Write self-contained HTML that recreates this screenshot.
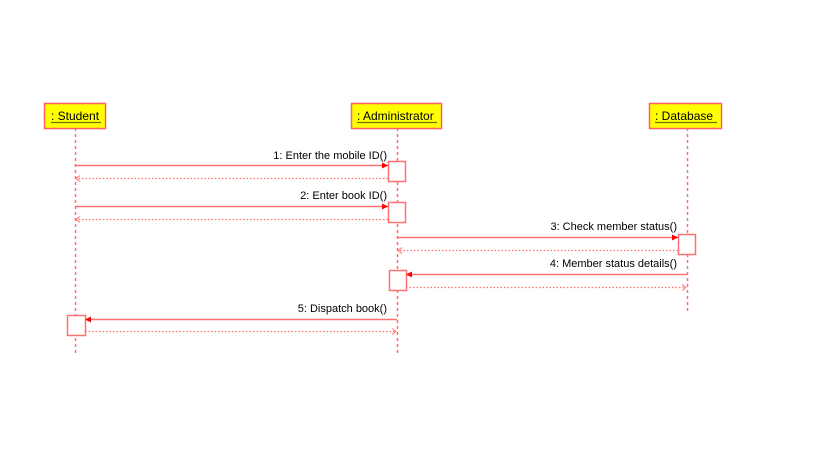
<!DOCTYPE html>
<html><head><meta charset="utf-8"><style>
html,body{margin:0;padding:0;background:#fff;}
svg{display:block}
text{font-family:"Liberation Sans",sans-serif;font-size:11px;fill:#000}
</style></head><body>
<svg width="819" height="460" viewBox="0 0 819 460" xmlns="http://www.w3.org/2000/svg">
<g stroke="#ff7070" stroke-width="1.5" fill="none">
<line x1="75.5" y1="128" x2="75.5" y2="356" stroke-dasharray="3,3"/>
<line x1="397.5" y1="128" x2="397.5" y2="356" stroke-dasharray="3,3"/>
<line x1="687.5" y1="128" x2="687.5" y2="311" stroke-dasharray="3,3"/>
</g>
<g stroke="#ff6060" stroke-width="1.5" fill="#ffff00">
<rect x="44.5" y="103.5" width="61" height="25"/>
<rect x="351.5" y="103.5" width="90" height="25"/>
<rect x="649.5" y="103.5" width="72" height="25"/>
</g>
<text x="51" y="120" style="font-size:12px">: Student</text>
<text x="357" y="120" style="font-size:12px">: Administrator</text>
<text x="655" y="120" style="font-size:12px">: Database</text>
<g stroke="#707000" stroke-width="1.3">
<line x1="51" y1="122.5" x2="101" y2="122.5"/>
<line x1="357" y1="122.5" x2="437" y2="122.5"/>
<line x1="655" y1="122.5" x2="717" y2="122.5"/>
</g>
<g stroke="#ff7070" stroke-width="1.5" fill="#fff">
<rect x="388.5" y="161.5" width="17" height="20"/>
<rect x="388.5" y="202.5" width="17" height="20"/>
<rect x="678.5" y="234.5" width="17" height="20"/>
<rect x="389.5" y="270.5" width="17" height="20"/>
<rect x="67.5" y="315.5" width="18" height="20"/>
</g>
<g stroke="#ff7070" stroke-width="1.5">
<line x1="75" y1="165.5" x2="388" y2="165.5"/>
<line x1="75" y1="206.5" x2="388" y2="206.5"/>
<line x1="397" y1="237.5" x2="678" y2="237.5"/>
<line x1="687" y1="274.5" x2="406" y2="274.5"/>
<line x1="397" y1="319.5" x2="85" y2="319.5"/>
</g>
<g fill="#ff0000">
<polygon points="388,165.5 382,162.5 382,168.5"/>
<polygon points="388,206.5 382,203.5 382,209.5"/>
<polygon points="678,237.5 672,234.5 672,240.5"/>
<polygon points="406,274.5 412,271.5 412,277.5"/>
<polygon points="85,319.5 91,316.5 91,322.5"/>
</g>
<g stroke="#ff7070" stroke-width="1.3" stroke-dasharray="1.5,2" fill="none">
<line x1="388" y1="178.5" x2="76" y2="178.5"/>
<line x1="388" y1="219.5" x2="76" y2="219.5"/>
<line x1="678" y1="250.5" x2="398" y2="250.5"/>
<line x1="406" y1="287.5" x2="686" y2="287.5"/>
<line x1="85" y1="331.5" x2="396" y2="331.5"/>
</g>
<g stroke="#ff7070" stroke-width="1" fill="none">
<polyline points="80,175.5 76,178.5 80,181.5"/>
<polyline points="80,216.5 76,219.5 80,222.5"/>
<polyline points="402,247.5 398,250.5 402,253.5"/>
<polyline points="682,284.5 686,287.5 682,290.5"/>
<polyline points="392,328.5 396,331.5 392,334.5"/>
</g>
<g text-anchor="end">
<text x="387" y="159">1: Enter the mobile ID()</text>
<text x="387" y="199">2: Enter book ID()</text>
<text x="677" y="230">3: Check member status()</text>
<text x="677" y="267">4: Member status details()</text>
<text x="387" y="312">5: Dispatch book()</text>
</g>
</svg>
</body></html>
